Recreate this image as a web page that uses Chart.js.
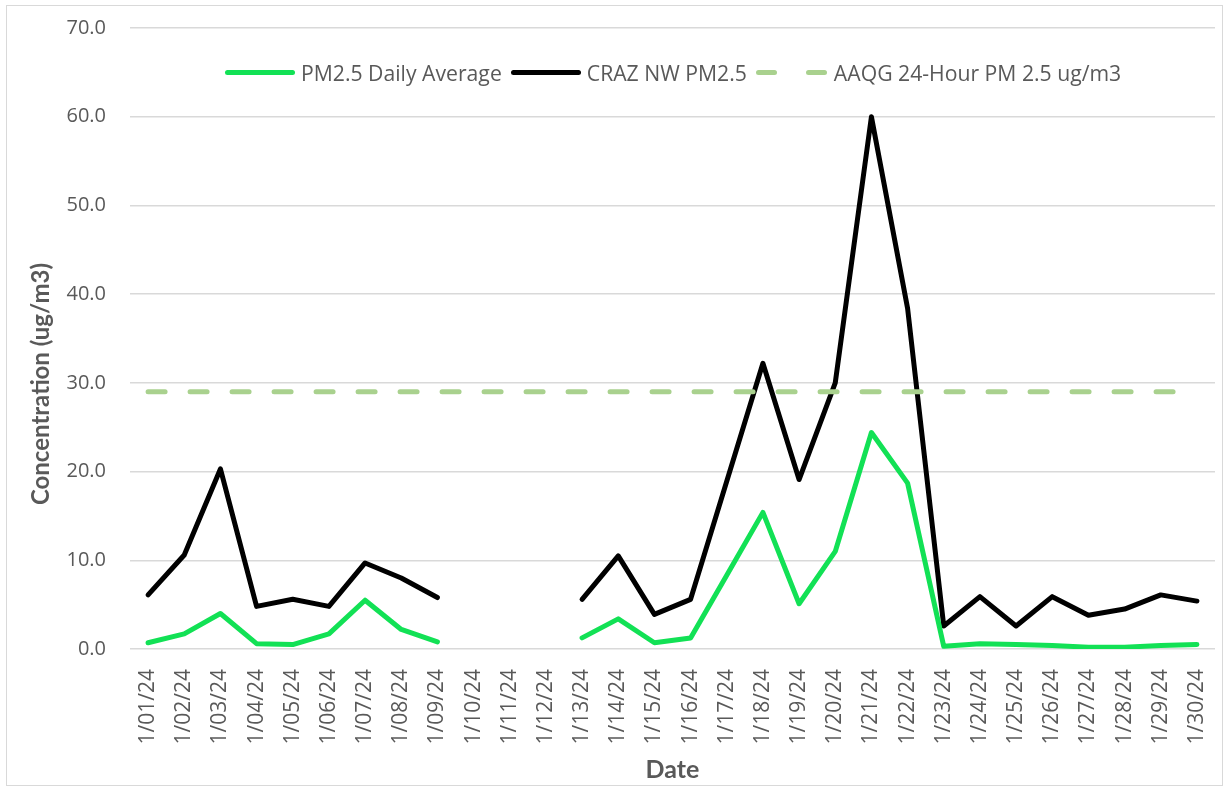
<!DOCTYPE html>
<html>
<head>
<meta charset="utf-8">
<script src="https://cdn.jsdelivr.net/npm/chart.js@4.4.0/dist/chart.umd.min.js"></script>
<style>
  body { margin: 0; background: #fff; }
  #wrap { position: relative; width: 1228px; height: 790px; }
  #frame { position: absolute; left: 6px; top: 5px; right: 5px; bottom: 4px; border: 1.5px solid #d9d9d9; pointer-events: none; }
  #legend { position: absolute; left: 225px; top: 58px; display: flex; align-items: center;
    font-family: "Open Sans", sans-serif; font-size: 21.2px; color: #595959; white-space: nowrap; }
  .item { display: flex; align-items: center; margin-right: 9px; }
  .swatch { display: inline-block; width: 70px; height: 5px; border-radius: 3px; margin-right: 6px; }
  .dash { display: inline-flex; width: 71px; justify-content: space-between; margin-right: 7px; }
  .dash i { display: inline-block; width: 21px; height: 5px; border-radius: 3px; }
</style>
</head>
<body>
<div id="wrap">
  <canvas id="chart" width="1228" height="790"></canvas>
  <div id="legend"></div>
  <div id="frame"></div>
</div>
<script>
// dates along the bottom
var dates = ['1/01/24','1/02/24','1/03/24','1/04/24','1/05/24','1/06/24','1/07/24','1/08/24','1/09/24','1/10/24',
  '1/11/24','1/12/24','1/13/24','1/14/24','1/15/24','1/16/24','1/17/24','1/18/24','1/19/24','1/20/24',
  '1/21/24','1/22/24','1/23/24','1/24/24','1/25/24','1/26/24','1/27/24','1/28/24','1/29/24','1/30/24'];

// readings, ug/m3 (no data 1/10 - 1/12)
var pmDailyAvg = [0.7, 1.7, 4.0, 0.6, 0.5, 1.7, 5.5, 2.2, 0.8, null,
  null, null, 1.25, 3.4, 0.7, 1.25, 8.3, 15.4, 5.1, 11.0,
  24.4, 18.7, 0.3, 0.6, 0.5, 0.4, 0.2, 0.2, 0.4, 0.5];
var crazNW = [6.1, 10.6, 20.3, 4.8, 5.6, 4.8, 9.7, 8.0, 5.8, null,
  null, null, 5.6, 10.5, 3.9, 5.6, 18.9, 32.2, 19.1, 30.0,
  60.0, 38.4, 2.6, 5.9, 2.6, 5.9, 3.8, 4.5, 6.1, 5.4];
var aaqgLimit = [29, 29, 29, 29, 29, 29, 29, 29, 29, 29,
  29, 29, 29, 29, 29, 29, 29, 29, 29, 29,
  29, 29, 29, 29, 29, 29, 29, 29, 29, 29];

var yTicks = [0, 10, 20, 30, 40, 50, 60, 70];
var yTitle = 'Concentration (ug/m3)';

var grey = '#595959';

// y title is not centred on the plot in the original, so draw it here
var yTitlePlugin = {
  id: 'yTitle',
  afterDraw: function(chart) {
    var ctx = chart.ctx;
    ctx.save();
    ctx.translate(41, 384);
    ctx.rotate(-Math.PI / 2);
    ctx.font = 'bold 24px Lato';
    ctx.fillStyle = grey;
    ctx.textAlign = 'center';
    ctx.textBaseline = 'middle';
    ctx.fillText(yTitle, 0, 0);
    ctx.restore();
  }
};

var chart = new Chart(document.getElementById('chart'), {
  type: 'line',
  data: {
    labels: dates,
    datasets: [
      {
        label: 'PM2.5 Daily Average',
        data: pmDailyAvg,
        borderColor: '#12e155',
        borderWidth: 5,
        order: 1
      },
      {
        label: 'CRAZ NW PM2.5',
        data: crazNW,
        borderColor: '#000000',
        borderWidth: 5,
        order: 2
      },
      {
        label: 'AAQG 24-Hour PM 2.5 ug/m3',
        data: aaqgLimit,
        borderColor: '#a9d18e',
        borderWidth: 5,
        borderDash: [17, 25],
        order: 0
      }
    ]
  },
  plugins: [yTitlePlugin],
  options: {
    responsive: false,
    animation: false,
    spanGaps: false,
    elements: {
      point: { radius: 0, hoverRadius: 0 },
      line: { tension: 0, borderCapStyle: 'round', borderJoinStyle: 'round', fill: false }
    },
    layout: { padding: { top: 28, right: 13, left: 0, bottom: 0 } },
    plugins: {
      legend: { display: false },
      tooltip: { enabled: false }
    },
    scales: {
      x: {
        offset: true,
        grid: { display: false, drawTicks: false },
        border: { display: false },
        ticks: { color: grey, font: { family: 'Open Sans', size: 21 }, minRotation: 90, maxRotation: 90, padding: 20, autoSkip: false },
        title: { display: true, text: 'Date', color: grey, font: { family: 'Lato', size: 25, weight: 'bold' }, padding: { top: 0, bottom: 5 } },
        afterFit: function(scale) {
          scale.height = 141;
          scale.paddingLeft = 0;
          scale.paddingRight = 0;
        }
      },
      y: {
        min: 0,
        max: 70,
        afterBuildTicks: function(scale) { scale.ticks = yTicks.map(function(v) { return { value: v }; }); },
        grid: { color: '#d9d9d9', lineWidth: 1.5, drawTicks: false },
        border: { display: false },
        ticks: { color: grey, font: { family: 'Open Sans', size: 20 }, padding: 24, callback: function(v) { return v.toFixed(1); } },
        afterFit: function(scale) {
          scale.width = 130;
          // tick padding would otherwise push the plot top down
          scale.paddingTop = 0;
          scale.paddingBottom = 0;
        }
      }
    }
  }
});

// legend sits inside the plot, so build it by hand from the datasets
var legendBox = document.getElementById('legend');
chart.data.datasets.forEach(function(ds) {
  var item = document.createElement('span');
  item.className = 'item';
  var sample;
  if (ds.borderDash) {
    sample = document.createElement('span');
    sample.className = 'dash';
    sample.innerHTML = '<i style="background:' + ds.borderColor + '"></i><i style="background:' + ds.borderColor + '"></i>';
  } else {
    sample = document.createElement('span');
    sample.className = 'swatch';
    sample.style.background = ds.borderColor;
  }
  item.appendChild(sample);
  item.appendChild(document.createTextNode(ds.label));
  legendBox.appendChild(item);
});
</script>
</body>
</html>
